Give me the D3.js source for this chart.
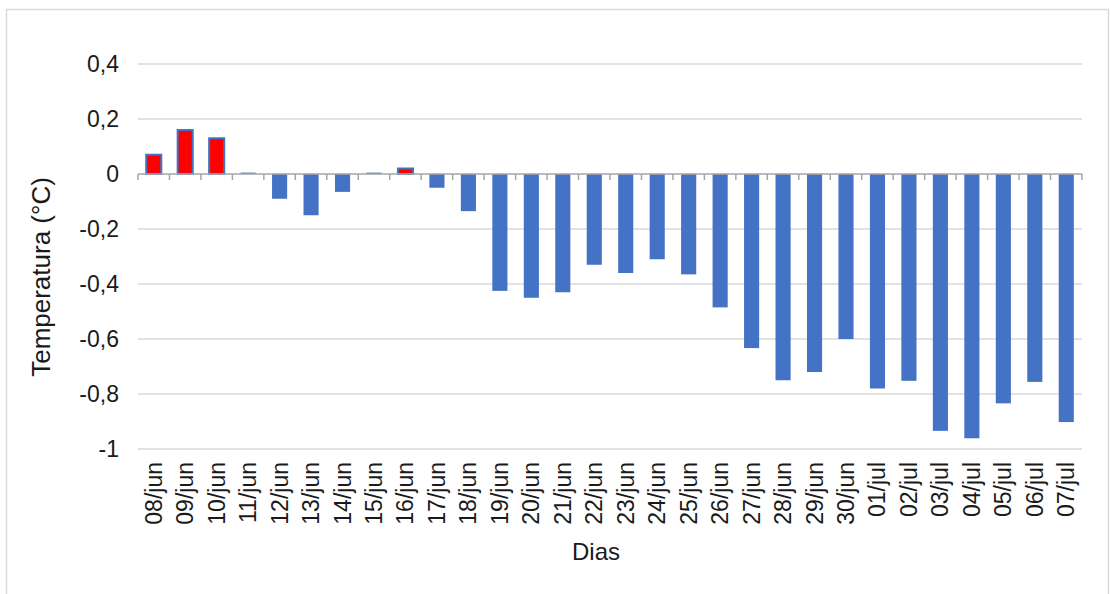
<!DOCTYPE html>
<html>
<head>
<meta charset="utf-8">
<script src="https://cdn.jsdelivr.net/npm/d3@7"></script>
<style>
  html, body { margin: 0; padding: 0; background: #fff; }
  svg { display: block; font-family: "Liberation Sans", Arial, sans-serif; }
</style>
</head>
<body>
<svg id="chart" width="1110" height="594"></svg>
<script>
// Daily temperature anomaly (°C)
const days = [
  "08/jun","09/jun","10/jun","11/jun","12/jun","13/jun","14/jun","15/jun","16/jun","17/jun",
  "18/jun","19/jun","20/jun","21/jun","22/jun","23/jun","24/jun","25/jun","26/jun","27/jun",
  "28/jun","29/jun","30/jun","01/jul","02/jul","03/jul","04/jul","05/jul","06/jul","07/jul"
];
const values = [
  0.07, 0.16, 0.13, 0.005, -0.09, -0.15, -0.065, 0.005, 0.02, -0.05,
  -0.135, -0.425, -0.45, -0.43, -0.33, -0.36, -0.31, -0.365, -0.485, -0.633,
  -0.75, -0.72, -0.60, -0.78, -0.752, -0.934, -0.961, -0.834, -0.756, -0.902
];
// Days highlighted in red (warm days)
const warmDays = ["08/jun","09/jun","10/jun","16/jun"];
const yTicks = [0.4, 0.2, 0, -0.2, -0.4, -0.6, -0.8, -1];

const svg = d3.select("#chart");
const plotLeft = 138, plotRight = 1082, plotTop = 64, plotBottom = 449;

// Outer frame
svg.append("rect")
  .attr("x", 6.5).attr("y", 9.5)
  .attr("width", 1102).attr("height", 600)
  .attr("fill", "none").attr("stroke", "#d9d9d9").attr("stroke-width", 1.5);

const x = d3.scaleBand().domain(days).range([plotLeft, plotRight]).paddingInner(0.52).paddingOuter(0.26);
const y = d3.scaleLinear().domain([-1, 0.4]).range([plotBottom, plotTop]);

// Horizontal gridlines
svg.append("g")
  .selectAll("line")
  .data(yTicks.filter(t => t !== 0))
  .join("line")
  .attr("x1", plotLeft).attr("x2", plotRight)
  .attr("y1", d => y(d)).attr("y2", d => y(d))
  .attr("stroke", "#d9d9d9").attr("stroke-width", 1.5);

// Y tick labels
const fmt = d => d === 0 ? "0" : d === -1 ? "-1" : d3.format(".1f")(d).replace(".", ",").replace("−", "-");
svg.append("g")
  .selectAll("text")
  .data(yTicks)
  .join("text")
  .attr("x", 119)
  .attr("y", d => y(d))
  .attr("dy", "0.35em")
  .attr("text-anchor", "end")
  .attr("font-size", 23)
  .attr("fill", "#1a1a1a")
  .text(d => fmt(d));

// Bars
svg.append("g")
  .selectAll("rect")
  .data(days.map((d, i) => ({ day: d, v: values[i] })))
  .join("rect")
  .attr("x", d => x(d.day))
  .attr("width", x.bandwidth())
  .attr("y", d => y(Math.max(0, d.v)))
  .attr("height", d => Math.abs(y(d.v) - y(0)))
  .attr("fill", d => warmDays.includes(d.day) ? "#ff0000" : "#4472c4")
  .attr("stroke", d => warmDays.includes(d.day) ? "#4472c4" : "none")
  .attr("stroke-width", 2);

// Zero axis with ticks between categories
const step = x.step();
const axisG = svg.append("g").attr("stroke", "#a6a6a6").attr("stroke-width", 1.5);
axisG.append("line")
  .attr("x1", plotLeft).attr("x2", plotRight)
  .attr("y1", y(0)).attr("y2", y(0));
axisG.selectAll("line.tick")
  .data(d3.range(days.length + 1))
  .join("line")
  .attr("class", "tick")
  .attr("x1", i => plotLeft + i * step).attr("x2", i => plotLeft + i * step)
  .attr("y1", y(0)).attr("y2", y(0) + 6);

// Category labels, rotated
svg.append("g")
  .selectAll("text")
  .data(days)
  .join("text")
  .attr("transform", d => `translate(${x(d) + x.bandwidth() / 2 + 8},462) rotate(-90)`)
  .attr("text-anchor", "end")
  .attr("font-size", 23)
  .attr("fill", "#1a1a1a")
  .text(d => d);

// Axis titles
svg.append("text")
  .attr("x", 596).attr("y", 560)
  .attr("text-anchor", "middle")
  .attr("font-size", 24)
  .attr("fill", "#1a1a1a")
  .text("Dias");

svg.append("text")
  .attr("transform", "translate(50,277) rotate(-90)")
  .attr("text-anchor", "middle")
  .attr("font-size", 26)
  .attr("fill", "#1a1a1a")
  .text("Temperatura (°C)");
</script>
</body>
</html>
